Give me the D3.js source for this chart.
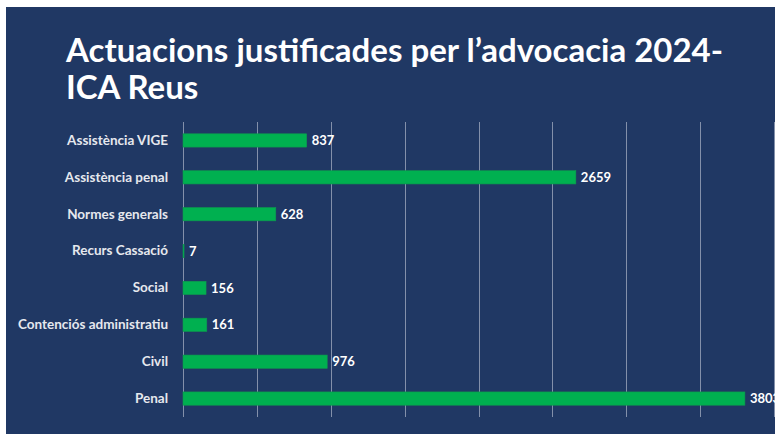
<!DOCTYPE html>
<html>
<head>
<meta charset="utf-8">
<script src="https://cdn.jsdelivr.net/npm/d3@7"></script>
<style>
  body { margin: 0; background: #fff; }
  text { font-family: Lato, "Open Sans", sans-serif; }
</style>
</head>
<body>
<div id="chart"></div>
<script>
const categories = [
    "Assistència VIGE",
    "Assistència penal",
    "Normes generals",
    "Recurs Cassació",
    "Social",
    "Contenciós administratiu",
    "Civil",
    "Penal"
];
const values = [837, 2659, 628, 7, 156, 161, 976, 3803];
const xTicks = [0, 500, 1000, 1500, 2000, 2500, 3000, 3500, 4000];
const titleLines = ["Actuacions justificades per l’advocacia 2024-", "ICA Reus"];

const width = 775, height = 434;
const margin = { top: 122, right: 1, bottom: 17, left: 183 };

const svg = d3.select("#chart")
    .append("svg")
    .attr("width", width)
    .attr("height", height);

// dark slide background
svg.append("rect")
    .attr("x", 6)
    .attr("y", 7)
    .attr("width", width - 6)
    .attr("height", height - 7)
    .attr("fill", "#203864");

svg.append("text")
    .attr("x", 66)
    .attr("y", 62)
    .attr("fill", "#ffffff")
    .attr("font-size", 33)
    .attr("font-weight", 700)
    .selectAll("tspan")
    .data(titleLines)
    .join("tspan")
    .attr("x", 66)
    .attr("dy", (d, i) => i === 0 ? 0 : 37)
    .text(d => d);

const xScale = d3.scaleLinear()
    .domain([0, 4000])
    .range([margin.left, width - margin.right]);

const yScale = d3.scaleBand()
    .domain(categories)
    .range([margin.top, height - margin.bottom])
    .paddingInner(0.64)
    .paddingOuter(0.32);

// vertical gridlines
svg.append("g")
    .selectAll("line")
    .data(xTicks)
    .join("line")
    .attr("x1", d => Math.round(xScale(d)) + 0.5)
    .attr("x2", d => Math.round(xScale(d)) + 0.5)
    .attr("y1", margin.top)
    .attr("y2", height - margin.bottom)
    .attr("stroke", "#8390aa")
    .attr("stroke-width", 1);

// category axis
const yAxis = svg.append("g")
    .attr("transform", `translate(${margin.left - 15},0)`)
    .call(d3.axisLeft(yScale).tickSize(0).tickPadding(0));
yAxis.select(".domain").remove();
yAxis.selectAll("text")
    .attr("fill", "#e6e8ee")
    .attr("font-size", 13.5)
    .attr("font-weight", 700)
    .style("font-family", "Lato, sans-serif");

const data = categories.map((c, i) => ({ category: c, value: values[i] }));

svg.append("g")
    .selectAll("rect")
    .data(data)
    .join("rect")
    .attr("x", xScale(0))
    .attr("y", d => yScale(d.category))
    .attr("width", d => xScale(d.value) - xScale(0))
    .attr("height", yScale.bandwidth())
    .attr("fill", "#00b050")
    .attr("stroke", "#0e9a4e")
    .attr("stroke-width", 0.6);

svg.append("g")
    .selectAll("text")
    .data(data)
    .join("text")
    .attr("x", d => xScale(d.value) + 5)
    .attr("y", d => yScale(d.category) + yScale.bandwidth() / 2)
    .attr("dy", "0.36em")
    .attr("fill", "#ffffff")
    .attr("font-size", 13)
    .attr("font-weight", 700)
    .text(d => d.value);
</script>
</body>
</html>
